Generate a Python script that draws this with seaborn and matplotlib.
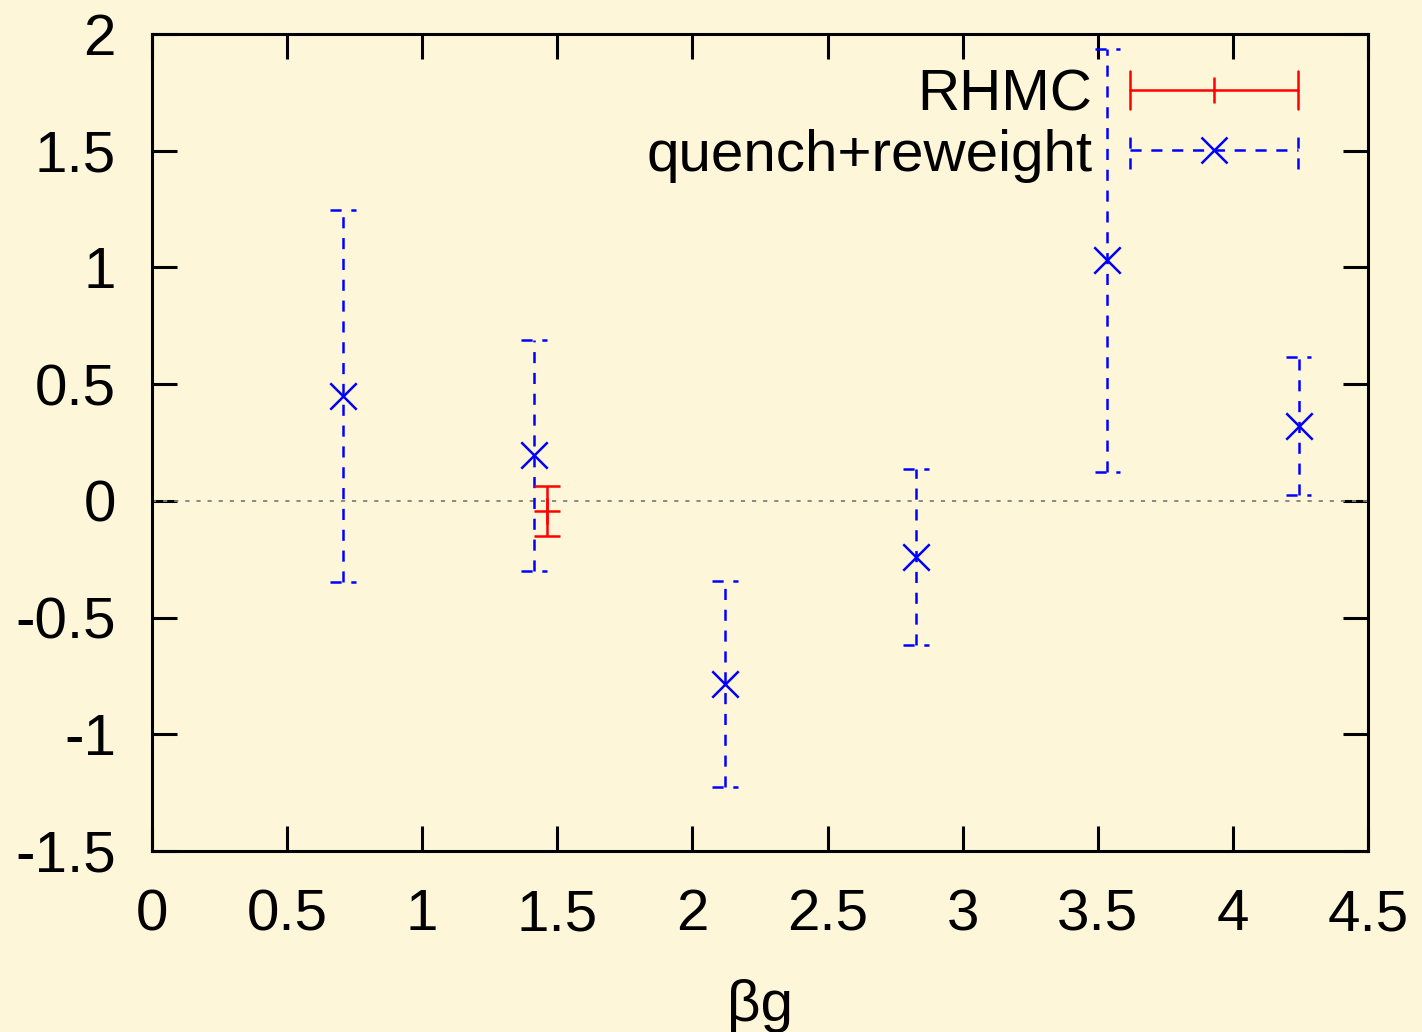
import matplotlib
matplotlib.use("Agg")
import matplotlib.pyplot as plt
from matplotlib.legend_handler import HandlerBase
from matplotlib.lines import Line2D
import seaborn as sns
import pandas as pd

# quench+reweight points
x_quench = [0.707, 1.414, 2.121, 2.828, 3.536, 4.243]
y_quench = [0.45, 0.195, -0.785, -0.24, 1.03, 0.32]
err_quench = [0.797, 0.495, 0.44, 0.377, 0.906, 0.296]

# RHMC point
x_rhmc = [1.46]
y_rhmc = [-0.043]
err_rhmc = [0.107]

BG = "#fdf6d8"
RED = "#ff0000"
BLUE = "#0000ff"
LW = 1.8
DASH = (0, (8, 7))
FS = 42


class HBarHandler(HandlerBase):
    """gnuplot-like key sample: horizontal bar with end caps and a point in the middle"""
    def __init__(self, color, ls, marker):
        super().__init__()
        self.color, self.ls, self.marker = color, ls, marker

    def create_artists(self, legend, orig_handle, xdescent, ydescent, width, height, fontsize, trans):
        y = height / 2 - ydescent
        x0, x1 = -xdescent, width - xdescent
        h = 0.32 * fontsize
        kw = dict(color=self.color, lw=LW, ls=self.ls, transform=trans)
        arts = [
            Line2D([x0, x1], [y, y], **kw),
            Line2D([x0, x0], [y - h, y + h], **kw),
            Line2D([x1, x1], [y - h, y + h], **kw),
            Line2D([(x0 + x1) / 2], [y], marker=self.marker, ms=19, mew=LW,
                   color=self.color, ls="none", transform=trans),
        ]
        return arts


sns.set_theme(style="ticks", rc={
    "axes.facecolor": BG, "figure.facecolor": BG,
    "axes.linewidth": 2.2, "xtick.major.width": 2.2, "ytick.major.width": 2.2,
    "xtick.major.size": 18, "ytick.major.size": 18,
    "xtick.direction": "in", "ytick.direction": "in",
    "xtick.top": True, "ytick.right": True,
    "text.color": "black", "axes.labelcolor": "black",
    "xtick.color": "black", "ytick.color": "black",
    "lines.scale_dashes": False,
})
plt.rcParams["font.family"] = ["Liberation Sans", "DejaVu Sans"]

fig = plt.figure(figsize=(14.22, 10.32), dpi=100)
ax = fig.add_axes([0.1069, 0.1754, 0.8551, 0.7916])

ax.axhline(0, color="#808080", lw=1.3, ls=(0, (3, 5)), zorder=1)

# RHMC
ax.errorbar(x_rhmc, y_rhmc, yerr=err_rhmc, fmt="none", ecolor=RED, elinewidth=LW,
            capsize=9.5, capthick=LW, zorder=3)
sns.scatterplot(x=x_rhmc, y=y_rhmc, marker="+", s=19 ** 2, color=RED, linewidth=LW, ax=ax,
                zorder=4, legend=False)

# quench+reweight
ax.errorbar(x_quench, y_quench, yerr=err_quench, fmt="none", ecolor=BLUE, elinewidth=LW,
            ls="none", zorder=2)
for line in ax.collections[-1:]:
    line.set_linestyle(DASH)
cap_w = 0.048
df = pd.DataFrame({"x": x_quench, "y": y_quench, "e": err_quench})
for lvl in (df.y + df.e, df.y - df.e):
    ax.hlines(lvl, df.x - cap_w, df.x + cap_w, colors=BLUE, lw=LW, linestyles=DASH, zorder=2)
sns.scatterplot(data=df, x="x", y="y", marker="x", s=19 ** 2, color=BLUE, linewidth=LW, ax=ax,
                zorder=4, legend=False)

ax.set_xlim(0, 4.5)
ax.set_ylim(-1.5, 2)
ax.set_xticks([0, 0.5, 1, 1.5, 2, 2.5, 3, 3.5, 4, 4.5])
ax.set_xticklabels(["0", "0.5", "1", "1.5", "2", "2.5", "3", "3.5", "4", "4.5"])
ax.set_yticks([-1.5, -1, -0.5, 0, 0.5, 1, 1.5, 2])
ax.set_yticklabels(["-1.5", "-1", "-0.5", "0", "0.5", "1", "1.5", "2"])
ax.tick_params(axis="x", labelsize=FS, pad=27)
ax.tick_params(axis="y", labelsize=FS, pad=26)
ax.set_xlabel("βg", fontsize=FS, labelpad=26)
ax.set_ylabel("")
for s in ax.spines.values():
    s.set_visible(True)
    s.set_color("black")

h_rhmc = Line2D([], [], color=RED)
h_q = Line2D([], [], color=BLUE)
ax.legend([h_rhmc, h_q], ["RHMC", "quench+reweight"],
          handler_map={h_rhmc: HBarHandler(RED, "-", "|"), h_q: HBarHandler(BLUE, DASH, "x")},
          loc="upper right", bbox_to_anchor=(0.9424, 0.958), borderpad=0, borderaxespad=0,
          frameon=False, fontsize=FS, markerfirst=False, handlelength=2.88, handletextpad=0.64,
          labelspacing=0.11)

fig.savefig("out.png", dpi=100, facecolor=BG)
